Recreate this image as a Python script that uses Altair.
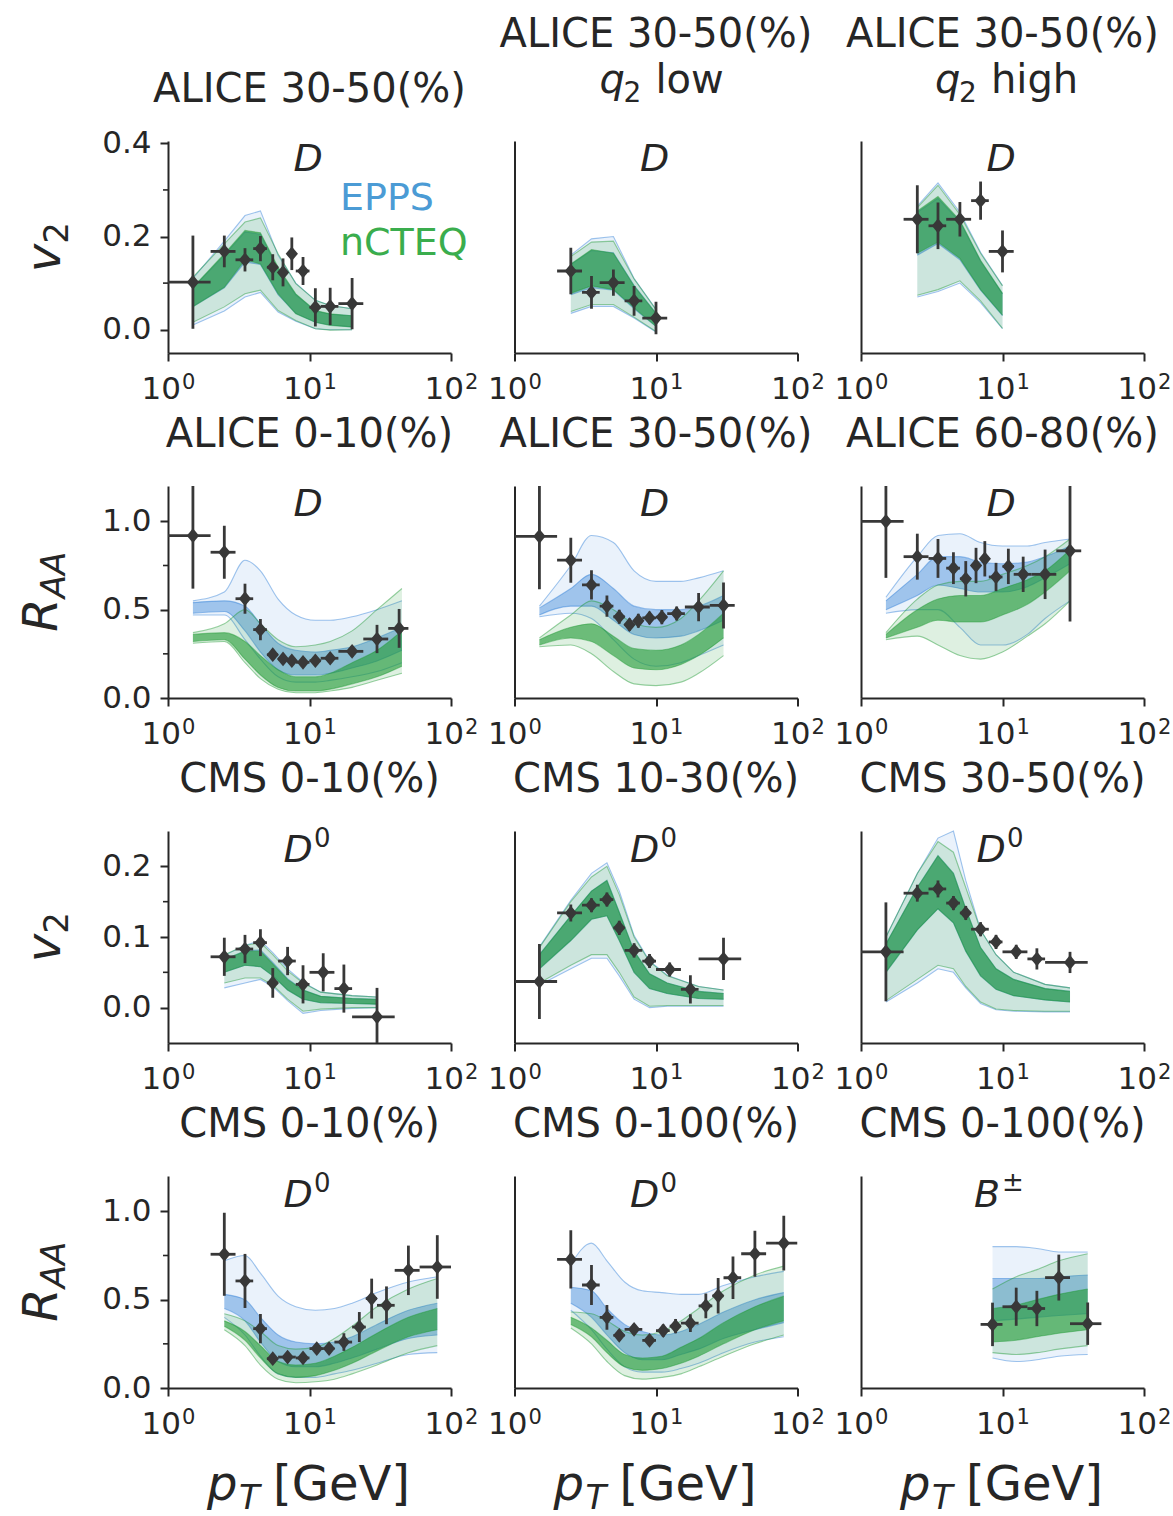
import altair as alt
import pandas as pd

FONT = "DejaVu Sans"
AX = "#262626"
DARK = "#383838"
BLUE = "#2f7fd6"
GREEN = "#1f9a33"
BLUE_TXT = "#4b9bd5"
GREEN_TXT = "#3aad4d"
W, H = 283, 212

# x tick labels (10^n)
XTICK_VALUES = [1, 10, 100]
XTICK_BASE = ["10", "10", "10"]
XTICK_EXP = ["0", "1", "2"]

# ---------------- Panel A: ALICE 30-50% v2 (D) ----------------
A_PT = [1.5, 2.5, 3.5, 4.5, 5.5, 6.5, 7.5, 9, 11, 14, 20]
A_PTLO = [1, 2, 3, 4, 5, 6, 7, 8, 10, 12, 16]
A_PTHI = [2, 3, 4, 5, 6, 7, 8, 10, 12, 16, 24]
A_Y = [0.102, 0.168, 0.150, 0.174, 0.134, 0.123, 0.163, 0.126, 0.048, 0.050, 0.056]
A_ERR = [0.100, 0.034, 0.025, 0.027, 0.028, 0.030, 0.035, 0.030, 0.041, 0.040, 0.055]
A_CPT = [1.5, 2.5, 3.5, 4.5, 6, 8, 11, 14, 20]
A_EPPS = [[0.010, 0.040, 0.070, 0.080, 0.038, 0.018, 0.002, 0.000, 0.000],
          [0.050, 0.090, 0.145, 0.140, 0.075, 0.035, 0.016, 0.010, 0.006],
          [0.090, 0.160, 0.210, 0.205, 0.130, 0.075, 0.040, 0.033, 0.030],
          [0.110, 0.190, 0.245, 0.255, 0.160, 0.100, 0.063, 0.052, 0.045]]
A_NCTEQ = [[0.016, 0.049, 0.077, 0.085, 0.041, 0.020, 0.002, -0.001, 0.000],
           [0.049, 0.091, 0.150, 0.141, 0.077, 0.034, 0.016, 0.009, 0.006],
           [0.091, 0.163, 0.213, 0.208, 0.134, 0.077, 0.041, 0.034, 0.030],
           [0.113, 0.184, 0.231, 0.240, 0.163, 0.099, 0.063, 0.052, 0.045]]

# ---------------- Panel B: ALICE 30-50% q2 low v2 ----------------
B_PT = [2.5, 3.5, 5, 7, 10]
B_PTLO = [2, 3, 4, 6, 8]
B_PTHI = [3, 4, 6, 8, 12]
B_Y = [0.126, 0.080, 0.101, 0.062, 0.025]
B_ERR = [0.050, 0.035, 0.028, 0.032, 0.035]
B_CPT = [2.5, 3.5, 5, 7, 10]
B_EPPS = [[0.035, 0.050, 0.050, 0.025, -0.005],
          [0.075, 0.090, 0.085, 0.045, 0.007],
          [0.140, 0.170, 0.165, 0.095, 0.035],
          [0.160, 0.195, 0.200, 0.110, 0.044]]
B_NCTEQ = [[0.039, 0.054, 0.054, 0.027, -0.004],
           [0.078, 0.094, 0.086, 0.047, 0.007],
           [0.141, 0.172, 0.164, 0.094, 0.035],
           [0.157, 0.188, 0.190, 0.109, 0.043]]

# ---------------- Panel C: ALICE 30-50% q2 high v2 ----------------
C_PT = [2.5, 3.5, 5, 7, 10]
C_PTLO = [2, 3, 4, 6, 8]
C_PTHI = [3, 4, 6, 8, 12]
C_Y = [0.237, 0.223, 0.237, 0.277, 0.168]
C_ERR = [0.073, 0.050, 0.037, 0.041, 0.045]
C_CPT = [2.5, 3.5, 5, 7, 10]
C_EPPS = [[0.070, 0.082, 0.100, 0.058, 0.002],
          [0.160, 0.185, 0.150, 0.085, 0.030],
          [0.252, 0.282, 0.232, 0.147, 0.077],
          [0.265, 0.315, 0.252, 0.166, 0.095]]
C_NCTEQ = [[0.074, 0.086, 0.105, 0.062, 0.003],
           [0.164, 0.188, 0.153, 0.086, 0.031],
           [0.255, 0.286, 0.235, 0.149, 0.078],
           [0.262, 0.310, 0.247, 0.164, 0.094]]

# ---------------- Panel D: ALICE 0-10% RAA ----------------
D_PT = [1.5, 2.5, 3.5, 4.5, 5.5, 6.5, 7.5, 9, 11, 14, 20, 30, 43]
D_PTLO = [1, 2, 3, 4, 5, 6, 7, 8, 10, 12, 16, 24, 36]
D_PTHI = [2, 3, 4, 5, 6, 7, 8, 10, 12, 16, 24, 36, 50]
D_Y = [0.919, 0.825, 0.562, 0.387, 0.245, 0.221, 0.211, 0.202, 0.211, 0.225, 0.264, 0.334, 0.394]
D_ERR = [0.30, 0.15, 0.085, 0.06, 0.03, 0.025, 0.025, 0.025, 0.025, 0.025, 0.03, 0.08, 0.11]
D_CPT = [1.5, 2.5, 3.5, 4.5, 6, 8, 11, 14, 20, 30, 45]
D_EPPS = [[0.47, 0.47, 0.33, 0.22, 0.12, 0.09, 0.09, 0.10, 0.12, 0.15, 0.20],
          [0.48, 0.49, 0.38, 0.26, 0.16, 0.13, 0.13, 0.14, 0.17, 0.21, 0.27],
          [0.54, 0.55, 0.52, 0.42, 0.31, 0.27, 0.26, 0.27, 0.29, 0.34, 0.40],
          [0.55, 0.60, 0.78, 0.72, 0.56, 0.47, 0.44, 0.44, 0.46, 0.50, 0.55]]
D_NCTEQ = [[0.31, 0.32, 0.20, 0.11, 0.05, 0.03, 0.03, 0.04, 0.06, 0.10, 0.14],
           [0.32, 0.33, 0.22, 0.13, 0.06, 0.04, 0.04, 0.05, 0.08, 0.12, 0.18],
           [0.36, 0.37, 0.32, 0.24, 0.16, 0.12, 0.12, 0.14, 0.20, 0.27, 0.38],
           [0.37, 0.42, 0.50, 0.42, 0.33, 0.29, 0.30, 0.32, 0.38, 0.50, 0.62]]

# ---------------- Panel E: ALICE 30-50% RAA ----------------
E_PT = [1.5, 2.5, 3.5, 4.5, 5.5, 6.5, 7.5, 9, 11, 14, 20, 30]
E_PTLO = [1, 2, 3, 4, 5, 6, 7, 8, 10, 12, 16, 24]
E_PTHI = [2, 3, 4, 5, 6, 7, 8, 10, 12, 16, 24, 36]
E_Y = [0.915, 0.780, 0.640, 0.520, 0.460, 0.415, 0.437, 0.453, 0.458, 0.478, 0.515, 0.524]
E_ERR = [0.30, 0.127, 0.083, 0.06, 0.04, 0.035, 0.04, 0.035, 0.04, 0.04, 0.08, 0.13]
E_CPT = [1.5, 2.5, 3.5, 5, 7, 10, 15, 20, 30]
E_EPPS = [[0.46, 0.48, 0.45, 0.33, 0.22, 0.18, 0.20, 0.24, 0.30],
          [0.47, 0.52, 0.52, 0.44, 0.36, 0.34, 0.35, 0.38, 0.44],
          [0.51, 0.62, 0.70, 0.62, 0.52, 0.50, 0.50, 0.52, 0.58],
          [0.52, 0.75, 0.92, 0.88, 0.72, 0.66, 0.66, 0.68, 0.72]]
E_NCTEQ = [[0.29, 0.30, 0.25, 0.15, 0.08, 0.07, 0.09, 0.14, 0.24],
           [0.30, 0.34, 0.32, 0.24, 0.17, 0.16, 0.19, 0.24, 0.34],
           [0.33, 0.40, 0.42, 0.35, 0.28, 0.27, 0.30, 0.36, 0.48],
           [0.34, 0.47, 0.55, 0.50, 0.42, 0.40, 0.45, 0.55, 0.72]]

# ---------------- Panel F: ALICE 60-80% RAA ----------------
F_PT = [1.5, 2.5, 3.5, 4.5, 5.5, 6.5, 7.5, 9, 11, 14, 20, 30]
F_PTLO = [1, 2, 3, 4, 5, 6, 7, 8, 10, 12, 16, 24]
F_PTHI = [2, 3, 4, 5, 6, 7, 8, 10, 12, 16, 24, 36]
F_Y = [1.000, 0.800, 0.790, 0.735, 0.675, 0.750, 0.788, 0.685, 0.745, 0.700, 0.700, 0.833]
F_ERR = [0.32, 0.13, 0.11, 0.09, 0.10, 0.10, 0.10, 0.08, 0.10, 0.10, 0.14, 0.40]
F_CPT = [1.5, 2.5, 3.5, 5, 7, 10, 15, 20, 30]
F_EPPS = [[0.48, 0.50, 0.50, 0.40, 0.30, 0.30, 0.36, 0.45, 0.55],
          [0.50, 0.58, 0.64, 0.62, 0.60, 0.60, 0.63, 0.68, 0.76],
          [0.55, 0.70, 0.80, 0.80, 0.77, 0.76, 0.77, 0.80, 0.86],
          [0.57, 0.80, 0.92, 0.93, 0.88, 0.86, 0.86, 0.88, 0.90]]
F_NCTEQ = [[0.33, 0.35, 0.30, 0.24, 0.22, 0.26, 0.35, 0.42, 0.55],
           [0.34, 0.40, 0.44, 0.43, 0.43, 0.47, 0.53, 0.60, 0.72],
           [0.36, 0.50, 0.56, 0.58, 0.58, 0.62, 0.67, 0.72, 0.84],
           [0.37, 0.56, 0.64, 0.66, 0.66, 0.70, 0.75, 0.80, 0.90]]

# ---------------- Panel G: CMS 0-10% v2 (D0) ----------------
G_PT = [2.5, 3.5, 4.5, 5.5, 7, 9, 12.5, 17.5, 30]
G_PTLO = [2, 3, 4, 5, 6, 8, 10, 15, 20]
G_PTHI = [3, 4, 5, 6, 8, 10, 15, 20, 40]
G_Y = [0.072, 0.083, 0.092, 0.035, 0.066, 0.033, 0.050, 0.027, -0.013]
G_ERR = [0.027, 0.020, 0.019, 0.021, 0.020, 0.027, 0.027, 0.034, 0.041]
G_CPT = [2.5, 3.5, 4.5, 5.5, 7, 9, 12, 20, 30]
G_EPPS = [[0.028, 0.035, 0.040, 0.030, 0.010, -0.008, -0.004, -0.001, 0.000],
          [0.050, 0.060, 0.058, 0.045, 0.025, 0.012, 0.007, 0.006, 0.005],
          [0.068, 0.080, 0.082, 0.064, 0.041, 0.025, 0.016, 0.013, 0.012],
          [0.074, 0.088, 0.095, 0.078, 0.055, 0.036, 0.022, 0.017, 0.015]]
G_NCTEQ = [[0.035, 0.042, 0.042, 0.032, 0.012, -0.005, -0.002, 0.000, 0.000],
           [0.050, 0.060, 0.058, 0.045, 0.025, 0.012, 0.007, 0.006, 0.005],
           [0.068, 0.080, 0.080, 0.062, 0.040, 0.025, 0.016, 0.013, 0.012],
           [0.075, 0.088, 0.092, 0.075, 0.052, 0.035, 0.022, 0.017, 0.015]]

# ---------------- Panel H: CMS 10-30% v2 (D0) ----------------
H_PT = [1.5, 2.5, 3.5, 4.5, 5.5, 7, 9, 12.5, 17.5, 30]
H_PTLO = [1, 2, 3, 4, 5, 6, 8, 10, 15, 20]
H_PTHI = [2, 3, 4, 5, 6, 8, 10, 15, 20, 40]
H_Y = [0.037, 0.134, 0.145, 0.153, 0.113, 0.081, 0.066, 0.054, 0.026, 0.069]
H_ERR = [0.053, 0.012, 0.010, 0.010, 0.010, 0.010, 0.010, 0.010, 0.020, 0.030]
H_CPT = [1.5, 2.5, 3.5, 4.5, 5.5, 7, 9, 12, 20, 30]
H_EPPS = [[0.032, 0.055, 0.070, 0.070, 0.045, 0.012, 0.000, 0.002, 0.002, 0.002],
          [0.055, 0.095, 0.125, 0.130, 0.095, 0.050, 0.027, 0.020, 0.013, 0.012],
          [0.075, 0.130, 0.165, 0.180, 0.135, 0.080, 0.048, 0.035, 0.023, 0.020],
          [0.086, 0.152, 0.190, 0.205, 0.165, 0.102, 0.066, 0.046, 0.030, 0.025]]
H_NCTEQ = [[0.035, 0.060, 0.075, 0.075, 0.050, 0.015, 0.002, 0.003, 0.003, 0.003],
           [0.055, 0.095, 0.125, 0.130, 0.095, 0.050, 0.027, 0.020, 0.013, 0.012],
           [0.075, 0.130, 0.165, 0.180, 0.135, 0.080, 0.048, 0.035, 0.023, 0.020],
           [0.085, 0.150, 0.185, 0.200, 0.160, 0.100, 0.065, 0.045, 0.030, 0.025]]

# ---------------- Panel I: CMS 30-50% v2 (D0) ----------------
I_PT = [1.5, 2.5, 3.5, 4.5, 5.5, 7, 9, 12.5, 17.5, 30]
I_PTLO = [1, 2, 3, 4, 5, 6, 8, 10, 15, 20]
I_PTHI = [2, 3, 4, 5, 6, 8, 10, 15, 20, 40]
I_Y = [0.079, 0.162, 0.168, 0.148, 0.134, 0.111, 0.093, 0.079, 0.069, 0.064]
I_ERR = [0.070, 0.012, 0.012, 0.010, 0.010, 0.010, 0.010, 0.010, 0.015, 0.015]
I_CPT = [1.5, 2.5, 3.5, 4.5, 5.5, 7, 9, 12, 20, 30]
I_EPPS = [[0.008, 0.035, 0.055, 0.050, 0.028, 0.006, -0.003, -0.005, -0.006, -0.006],
          [0.050, 0.110, 0.140, 0.120, 0.080, 0.045, 0.026, 0.017, 0.011, 0.008],
          [0.090, 0.170, 0.215, 0.190, 0.140, 0.085, 0.055, 0.040, 0.027, 0.023],
          [0.100, 0.190, 0.240, 0.250, 0.180, 0.110, 0.075, 0.050, 0.033, 0.028]]
I_NCTEQ = [[0.010, 0.040, 0.060, 0.055, 0.030, 0.008, -0.002, -0.004, -0.005, -0.005],
           [0.050, 0.110, 0.140, 0.120, 0.080, 0.045, 0.026, 0.017, 0.011, 0.008],
           [0.090, 0.170, 0.215, 0.190, 0.140, 0.085, 0.055, 0.040, 0.027, 0.023],
           [0.100, 0.190, 0.235, 0.220, 0.170, 0.110, 0.075, 0.050, 0.033, 0.028]]

# ---------------- Panel J: CMS 0-10% RAA (D0) ----------------
J_PT = [2.5, 3.5, 4.5, 5.5, 7, 9, 11.25, 13.75, 17.5, 22.5, 27.5, 35, 50, 80]
J_PTLO = [2, 3, 4, 5, 6, 8, 10, 12.5, 15, 20, 25, 30, 40, 60]
J_PTHI = [3, 4, 5, 6, 8, 10, 12.5, 15, 20, 25, 30, 40, 60, 100]
J_Y = [0.757, 0.606, 0.336, 0.166, 0.175, 0.170, 0.223, 0.223, 0.260, 0.345, 0.506, 0.468, 0.666, 0.685]
J_ERR = [0.235, 0.153, 0.083, 0.020, 0.020, 0.020, 0.030, 0.030, 0.050, 0.085, 0.113, 0.107, 0.140, 0.180]
J_CPT = [2.5, 3.5, 4.5, 6, 8, 11, 15, 20, 30, 50, 80]
J_EPPS = [[0.40, 0.30, 0.18, 0.08, 0.06, 0.06, 0.08, 0.10, 0.14, 0.19, 0.20],
          [0.45, 0.38, 0.26, 0.15, 0.12, 0.12, 0.14, 0.17, 0.22, 0.28, 0.30],
          [0.53, 0.50, 0.40, 0.30, 0.26, 0.25, 0.26, 0.29, 0.36, 0.44, 0.48],
          [0.72, 0.75, 0.65, 0.52, 0.46, 0.44, 0.45, 0.48, 0.54, 0.60, 0.63]]
J_NCTEQ = [[0.33, 0.24, 0.13, 0.05, 0.03, 0.035, 0.05, 0.08, 0.13, 0.20, 0.24],
           [0.35, 0.27, 0.17, 0.08, 0.06, 0.07, 0.10, 0.14, 0.21, 0.29, 0.33],
           [0.38, 0.32, 0.24, 0.15, 0.13, 0.14, 0.18, 0.23, 0.31, 0.40, 0.45],
           [0.42, 0.38, 0.32, 0.24, 0.22, 0.23, 0.28, 0.35, 0.46, 0.56, 0.62]]

# ---------------- Panel K: CMS 0-100% RAA (D0) ----------------
K_PT = [2.5, 3.5, 4.5, 5.5, 7, 9, 11.25, 13.75, 17.5, 22.5, 27.5, 35, 50, 80]
K_PTLO = [2, 3, 4, 5, 6, 8, 10, 12.5, 15, 20, 25, 30, 40, 60]
K_PTHI = [3, 4, 5, 6, 8, 10, 12.5, 15, 20, 25, 30, 40, 60, 100]
K_Y = [0.728, 0.583, 0.400, 0.298, 0.332, 0.270, 0.325, 0.350, 0.367, 0.465, 0.522, 0.624, 0.760, 0.820]
K_ERR = [0.165, 0.113, 0.070, 0.030, 0.030, 0.025, 0.035, 0.040, 0.050, 0.070, 0.100, 0.120, 0.130, 0.155]
K_CPT = [2.5, 3.5, 4.5, 6, 8, 11, 15, 20, 30, 50, 80]
K_EPPS = [[0.44, 0.33, 0.22, 0.12, 0.09, 0.09, 0.11, 0.14, 0.20, 0.26, 0.29],
          [0.48, 0.40, 0.30, 0.20, 0.16, 0.16, 0.19, 0.22, 0.28, 0.33, 0.37],
          [0.57, 0.55, 0.45, 0.36, 0.32, 0.30, 0.32, 0.36, 0.43, 0.50, 0.54],
          [0.70, 0.82, 0.72, 0.60, 0.55, 0.54, 0.53, 0.53, 0.58, 0.63, 0.66]]
K_NCTEQ = [[0.34, 0.25, 0.15, 0.07, 0.05, 0.06, 0.08, 0.12, 0.18, 0.25, 0.30],
           [0.36, 0.29, 0.20, 0.12, 0.10, 0.11, 0.14, 0.18, 0.25, 0.33, 0.38],
           [0.40, 0.34, 0.27, 0.19, 0.17, 0.18, 0.23, 0.28, 0.37, 0.46, 0.52],
           [0.43, 0.42, 0.38, 0.32, 0.30, 0.32, 0.38, 0.45, 0.55, 0.64, 0.69]]

# ---------------- Panel L: CMS 0-100% RAA (B+-) ----------------
L_PT = [8.5, 12.5, 17.5, 25, 40]
L_PTLO = [7, 10, 15, 20, 30]
L_PTHI = [10, 15, 20, 30, 50]
L_Y = [0.360, 0.460, 0.450, 0.625, 0.364]
L_ERR = [0.123, 0.108, 0.100, 0.130, 0.120]
L_CPT = [8.5, 12.5, 17.5, 25, 40]
L_EPPS = [[0.17, 0.15, 0.16, 0.18, 0.19],
          [0.38, 0.39, 0.40, 0.41, 0.42],
          [0.62, 0.62, 0.62, 0.63, 0.64],
          [0.80, 0.80, 0.79, 0.77, 0.77]]
L_NCTEQ = [[0.20, 0.19, 0.20, 0.22, 0.24],
           [0.26, 0.27, 0.29, 0.31, 0.33],
           [0.45, 0.47, 0.50, 0.53, 0.56],
           [0.56, 0.63, 0.67, 0.72, 0.76]]

# axis settings by panel kind
KINDS = {
    "v2a": {"domain": [-0.05, 0.405], "major": [0.0, 0.2, 0.4], "minor": [0.1, 0.3]},
    "raa": {"domain": [0.0, 1.2], "major": [0.0, 0.5, 1.0], "minor": [0.25, 0.75]},
    "v2b": {"domain": [-0.05, 0.25], "major": [0.0, 0.1, 0.2], "minor": [0.05, 0.15]},
}

ONE = pd.DataFrame({"k": [0]})
XTICKS = pd.DataFrame({"v": XTICK_VALUES, "base": XTICK_BASE, "exp": XTICK_EXP})
DIAMOND = "M0,-1.2L1,0L0,1.2L-1,0Z"


def txt(s, x, y, size, style="normal", align="left", angle=0, color=AX, baseline="alphabetic"):
    kw = dict(text=s, fontSize=size, fontStyle=style, align=align, baseline=baseline,
              color=color, font=FONT)
    if angle:
        kw["angle"] = angle
    return alt.Chart(ONE).mark_text(**kw).encode(x=alt.value(x), y=alt.value(y))


def curve_df(pt, arr):
    return pd.DataFrame({"pt": pt, "lo": arr[0], "clo": arr[1], "chi": arr[2], "hi": arr[3]})


def data_df(pt, ptlo, pthi, y, err):
    return pd.DataFrame({"pt": pt, "ptlo": ptlo, "pthi": pthi, "y": y,
                         "ylo": [a - b for a, b in zip(y, err)],
                         "yhi": [a + b for a, b in zip(y, err)]})


def panel(p, kind, col, title_layers, particle_layers, extra_layers):
    pt, ptlo, pthi, yv, err, cpt, epps, ncteq = p
    k = KINDS[kind]
    interp = "linear" if kind.startswith("v2") else "monotone"
    xs = alt.Scale(type="log", domain=[1, 100], nice=False)
    ys = alt.Scale(domain=k["domain"], nice=False, zero=False)
    xaxis = alt.Axis(values=XTICK_VALUES, labels=False, tickColor=AX,
                     domainColor=AX, tickWidth=2, domainWidth=2, tickSize=8, grid=False)
    if col == 0:
        yaxis = alt.Axis(values=k["major"], format=".1f", labelFontSize=31, labelFont=FONT,
                         labelColor=AX, tickColor=AX, domainColor=AX, tickWidth=2,
                         domainWidth=2, tickSize=8, labelPadding=9, grid=False,
                         labelOverlap=False, labelFlush=False)
    else:
        yaxis = alt.Axis(labels=False, ticks=False, domainColor=AX, domainWidth=2, grid=False)

    def X(f):
        return alt.X(f, type="quantitative", scale=xs, axis=xaxis, title=None)

    def Y(f):
        return alt.Y(f, type="quantitative", scale=ys, axis=yaxis, title=None)

    layers = []
    for arr, color, out_op, core_op in ((epps, BLUE, 0.10, 0.4), (ncteq, GREEN, 0.15, 0.6)):
        cdf = curve_df(cpt, arr)
        base = alt.Chart(cdf)
        layers.append(base.mark_area(color=color, opacity=out_op, interpolate=interp)
                      .encode(x=X("pt"), y=Y("lo"), y2="hi"))
        layers.append(base.mark_area(color=color, opacity=core_op, interpolate=interp)
                      .encode(x=X("pt"), y=Y("clo"), y2="chi"))
        layers.append(base.transform_fold(["lo", "clo", "chi", "hi"], as_=["key", "val"])
                      .mark_line(color=color, opacity=0.45, strokeWidth=1.1, interpolate=interp)
                      .encode(x=X("pt"), y=Y("val:Q"), detail="key:N"))
    if col == 0:
        layers.append(alt.Chart(pd.DataFrame({"t": k["minor"]}))
                      .mark_rule(color=AX, strokeWidth=1.6)
                      .encode(x=alt.value(-5), x2=alt.value(0), y=Y("t")))
    ddf = data_df(pt, ptlo, pthi, yv, err)
    d = alt.Chart(ddf)
    layers.append(d.mark_rule(color=DARK, strokeWidth=2.8, clip=True)
                  .encode(x=X("ptlo"), x2="pthi", y=Y("y")))
    layers.append(d.mark_rule(color=DARK, strokeWidth=2.8, clip=True)
                  .encode(x=X("pt"), y=Y("ylo"), y2="yhi"))
    layers.append(d.mark_point(shape=DIAMOND, filled=True, size=150, color=DARK, opacity=1)
                  .encode(x=X("pt"), y=Y("y")))
    # x tick labels "10" with superscript exponent
    tk = alt.Chart(XTICKS)
    layers.append(tk.mark_text(fontSize=31, font=FONT, color=AX, align="right",
                               baseline="alphabetic", dx=13)
                  .encode(x=X("v"), y=alt.value(H + 46), text="base:N"))
    layers.append(tk.mark_text(fontSize=21, font=FONT, color=AX, align="left",
                               baseline="alphabetic", dx=14)
                  .encode(x=X("v"), y=alt.value(H + 36), text="exp:N"))
    layers += title_layers + particle_layers + extra_layers
    return alt.layer(*layers).properties(width=W, height=H)


def title1(s):
    return [txt(s, W / 2, -39, 40, align="center")]


def title2(s, q2word, qx):
    return [txt(s, W / 2, -94, 40, align="center"),
            txt("q", qx, -48, 40, style="italic"),
            txt("2", qx + 24, -39, 28),
            txt(q2word, qx + 56, -48, 40)]


def part_D():
    return [txt("D", 140, 30, 38, style="italic", align="center")]


def part_D0():
    return [txt("D", 130, 31, 38, style="italic", align="center"),
            txt("0", 146, 16, 26)]


def part_B():
    return [txt("B", 126, 31, 38, style="italic", align="center"),
            txt("\u00b1", 141, 15, 26)]


def ylab_v2():
    return [txt("v", -108, 117, 48, style="italic", align="center", angle=270),
            txt("2", -100, 92, 34, align="center", angle=270)]


def ylab_raa():
    return [txt("R", -111, 129, 48, style="italic", align="center", angle=270),
            txt("AA", -103, 89, 34, style="italic", align="center", angle=270)]


def xlab():
    return [txt("p", 39, 324, 48, style="italic"),
            txt("T", 71, 333, 34, style="italic"),
            txt("[GeV]", 105, 324, 48)]


def legend():
    return [txt("EPPS", 172, 69, 38, color=BLUE_TXT),
            txt("nCTEQ", 172, 114, 38, color=GREEN_TXT)]


anchor_top = [alt.Chart(ONE).mark_rule(opacity=0, strokeWidth=1)
              .encode(x=alt.value(-168), x2=alt.value(-160), y=alt.value(-140.5))]
anchor_bottom = [alt.Chart(ONE).mark_rule(opacity=0, strokeWidth=1)
                 .encode(x=alt.value(0), x2=alt.value(8), y=alt.value(338))]

PA = (A_PT, A_PTLO, A_PTHI, A_Y, A_ERR, A_CPT, A_EPPS, A_NCTEQ)
PB = (B_PT, B_PTLO, B_PTHI, B_Y, B_ERR, B_CPT, B_EPPS, B_NCTEQ)
PC = (C_PT, C_PTLO, C_PTHI, C_Y, C_ERR, C_CPT, C_EPPS, C_NCTEQ)
PD = (D_PT, D_PTLO, D_PTHI, D_Y, D_ERR, D_CPT, D_EPPS, D_NCTEQ)
PE = (E_PT, E_PTLO, E_PTHI, E_Y, E_ERR, E_CPT, E_EPPS, E_NCTEQ)
PF = (F_PT, F_PTLO, F_PTHI, F_Y, F_ERR, F_CPT, F_EPPS, F_NCTEQ)
PG = (G_PT, G_PTLO, G_PTHI, G_Y, G_ERR, G_CPT, G_EPPS, G_NCTEQ)
PH = (H_PT, H_PTLO, H_PTHI, H_Y, H_ERR, H_CPT, H_EPPS, H_NCTEQ)
PI = (I_PT, I_PTLO, I_PTHI, I_Y, I_ERR, I_CPT, I_EPPS, I_NCTEQ)
PJ = (J_PT, J_PTLO, J_PTHI, J_Y, J_ERR, J_CPT, J_EPPS, J_NCTEQ)
PK = (K_PT, K_PTLO, K_PTHI, K_Y, K_ERR, K_CPT, K_EPPS, K_NCTEQ)
PL = (L_PT, L_PTLO, L_PTHI, L_Y, L_ERR, L_CPT, L_EPPS, L_NCTEQ)

panels = [
    panel(PA, "v2a", 0, title1("ALICE 30-50(%)"), part_D(), ylab_v2() + legend() + anchor_top),
    panel(PB, "v2a", 1, title2("ALICE 30-50(%)", "low", 85), part_D(), []),
    panel(PC, "v2a", 2, title2("ALICE 30-50(%)", "high", 74), part_D(), []),
    panel(PD, "raa", 0, title1("ALICE 0-10(%)"), part_D(), ylab_raa()),
    panel(PE, "raa", 1, title1("ALICE 30-50(%)"), part_D(), []),
    panel(PF, "raa", 2, title1("ALICE 60-80(%)"), part_D(), []),
    panel(PG, "v2b", 0, title1("CMS 0-10(%)"), part_D0(), ylab_v2()),
    panel(PH, "v2b", 1, title1("CMS 10-30(%)"), part_D0(), []),
    panel(PI, "v2b", 2, title1("CMS 30-50(%)"), part_D0(), []),
    panel(PJ, "raa", 0, title1("CMS 0-10(%)"), part_D0(), ylab_raa() + xlab() + anchor_bottom),
    panel(PK, "raa", 1, title1("CMS 0-100(%)"), part_D0(), xlab()),
    panel(PL, "raa", 2, title1("CMS 0-100(%)"), part_B(), xlab()),
]

chart = alt.ConcatChart(concat=panels, columns=3,
                        spacing=alt.RowColnumber(row=133, column=63.5),
                        bounds="flush", padding=0,
                        background="white").configure_view(stroke=None)

chart.save("out.html", embed_options={"renderer": "svg", "actions": False})
